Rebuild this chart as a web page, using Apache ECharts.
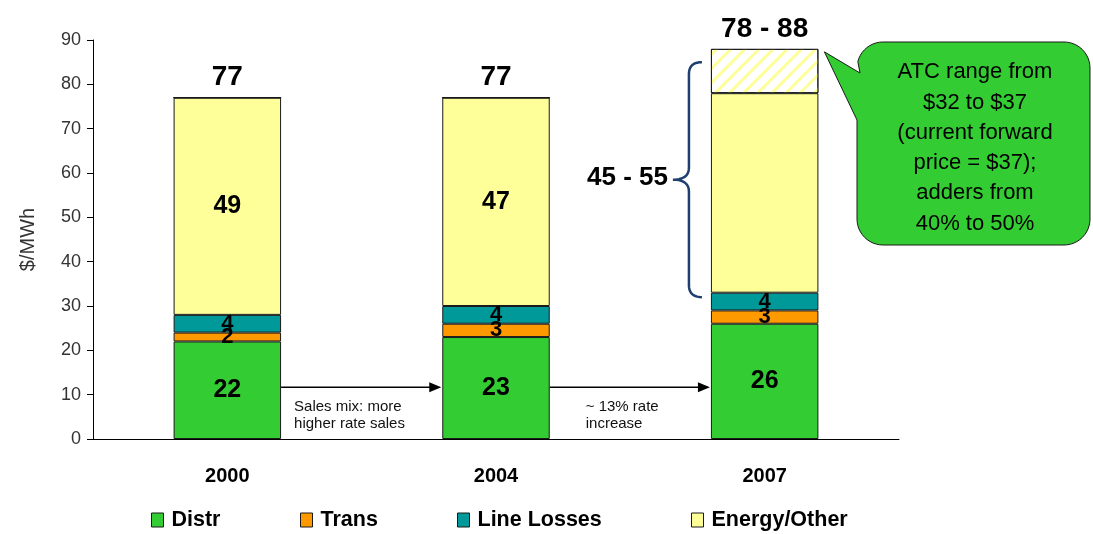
<!DOCTYPE html>
<html>
<head>
<meta charset="utf-8">
<script src="https://cdn.jsdelivr.net/npm/echarts@6/dist/echarts.min.js"></script>
<style>
html,body{margin:0;padding:0;background:#fff;}
#chart{width:1093px;height:534px;}
</style>
</head>
<body>
<div id="chart"></div>
<script>
const categories = ['2000', '2004', '2007'];
const distr = [22, 23, 26];
const trans = [2, 3, 3];
const lineLosses = [4, 4, 4];
const energyOther = [49, 47, 45];
const energyRange = [0, 0, 10];
const totalLabels = ['77', '77', '78 - 88'];
const yTicks = [0, 10, 20, 30, 40, 50, 60, 70, 80, 90];
const rangeLabel = '45 - 55';
const braceRange = [32, 85];
const arrowLevel = 11.7;
const arrowTexts = [['Sales mix: more', 'higher rate sales'], ['~ 13% rate', 'increase']];
const calloutLines = ['ATC range from', '$32 to $37', '(current forward', 'price = $37);', 'adders from', '40% to 50%'];

const FONT = 'Liberation Sans, Arial, sans-serif';
const colors = {Distr: '#33CC33', Trans: '#FF9900', 'Line Losses': '#009999', 'Energy/Other': '#FFFF99'};

const chart = echarts.init(document.getElementById('chart'), null, {renderer: 'canvas'});

function segLabel(size) {
  return {show: true, position: 'inside', color: '#000', fontFamily: FONT, fontWeight: 'bold', fontSize: size,
    formatter: p => p.value > 0 ? String(p.value) : ''};
}
const border = {borderColor: '#1a1a1a', borderWidth: 1};
const totalVals = categories.map(() => 0);

const option = {
  animation: false,
  backgroundColor: '#fff',
  grid: {left: 93, right: 194, top: 40, bottom: 95},
  xAxis: {
    type: 'category', data: categories,
    axisLine: {lineStyle: {color: '#000', width: 1}},
    axisTick: {show: false},
    axisLabel: {color: '#000', fontFamily: FONT, fontWeight: 'bold', fontSize: 20, margin: 27}
  },
  yAxis: {
    type: 'value', min: 0, max: 90, interval: 10,
    name: '$/MWh', nameLocation: 'middle', nameGap: 55, nameRotate: 90,
    nameTextStyle: {color: '#333', fontFamily: FONT, fontSize: 20},
    axisLine: {show: true, lineStyle: {color: '#000', width: 1}},
    axisTick: {show: true, length: 6, lineStyle: {color: '#000'}},
    splitLine: {show: false},
    axisLabel: {color: '#333', fontFamily: FONT, fontSize: 18, margin: 12,
      formatter: v => yTicks.indexOf(v) >= 0 ? String(v) : ''}
  },
  legend: [
    ['Distr', 146], ['Trans', 295], ['Line Losses', 452], ['Energy/Other', 686]
  ].map(([n, x]) => ({
    data: [n], left: x, top: 504, itemWidth: 12, itemHeight: 14, itemGap: 0,
    icon: 'rect', selectedMode: false,
    itemStyle: {borderColor: '#1a1a1a', borderWidth: 1},
    textStyle: {color: '#000', fontFamily: FONT, fontWeight: 'bold', fontSize: 21.5, padding: [0, 0, 0, 3]}
  })),
  series: [
    {name: 'Distr', type: 'bar', stack: 's', barWidth: '40%', data: distr,
      itemStyle: Object.assign({color: colors.Distr}, border), label: segLabel(25)},
    {name: 'Trans', type: 'bar', stack: 's', data: trans,
      itemStyle: Object.assign({color: colors.Trans}, border), label: segLabel(22)},
    {name: 'Line Losses', type: 'bar', stack: 's', data: lineLosses,
      itemStyle: Object.assign({color: colors['Line Losses']}, border), label: segLabel(22)},
    {name: 'Energy/Other', type: 'bar', stack: 's', data: energyOther,
      itemStyle: Object.assign({color: colors['Energy/Other']}, border),
      label: Object.assign(segLabel(25), {formatter: p => p.dataIndex === 2 ? '' : String(p.value)})},
    {name: 'Range', type: 'bar', stack: 's', data: energyRange,
      itemStyle: {color: '#fff', borderColor: '#1a1a1a', borderWidth: 1,
        decal: {symbol: 'rect', symbolSize: 1, color: '#FFFF99', dashArrayX: [1, 0], dashArrayY: [3, 7], rotation: -Math.PI / 4}},
      label: {show: false}},
    {name: 'Total', type: 'bar', stack: 's', data: totalVals,
      itemStyle: {color: 'transparent', borderWidth: 0},
      label: {show: true, position: 'top', distance: 6, color: '#000', fontFamily: FONT, fontWeight: 'bold', fontSize: 28,
        formatter: p => totalLabels[p.dataIndex]}}
  ]
};
chart.setOption(option);

// Annotations positioned through the axes
const P = (c, v) => chart.convertToPixel({gridIndex: 0}, [c, v]);
const halfBar = (P(categories[1], 0)[0] - P(categories[0], 0)[0]) * 0.4 / 2;
const g = [];
for (let i = 0; i < 2; i++) {
  const a = P(categories[i], arrowLevel), b = P(categories[i + 1], arrowLevel);
  const x1 = a[0] + halfBar, x2 = b[0] - halfBar, y = a[1];
  g.push({type: 'line', shape: {x1: x1, y1: y, x2: x2 - 10, y2: y}, style: {stroke: '#000', lineWidth: 1.5}});
  g.push({type: 'polygon', shape: {points: [[x2 - 1, y], [x2 - 13, y - 5], [x2 - 13, y + 5]]}, style: {fill: '#000'}});
  g.push({type: 'text', x: x1 + (i === 0 ? 13 : 36), y: y + 11,
    style: {text: arrowTexts[i].join('\n'), fill: '#111', font: '15px ' + FONT, lineHeight: 17}});
}
// Brace
function qpts(p0, c, p1, n) {
  const out = [];
  for (let k = 0; k <= n; k++) {
    const t = k / n, u = 1 - t;
    out.push([u * u * p0[0] + 2 * u * t * c[0] + t * t * p1[0], u * u * p0[1] + 2 * u * t * c[1] + t * t * p1[1]]);
  }
  return out;
}
const bt = P(categories[2], braceRange[1]), bb = P(categories[2], braceRange[0]);
const xr = bt[0] - halfBar - 9, xv = xr - 13, xt = xv - 16;
const yt = bt[1], yb = bb[1], ym = (yt + yb) / 2, r = 12;
const brace = [].concat(
  qpts([xr, yt], [xv, yt], [xv, yt + r], 10),
  qpts([xv, ym - r], [xv, ym], [xt, ym], 10),
  qpts([xt, ym], [xv, ym], [xv, ym + r], 10),
  qpts([xv, yb - r], [xv, yb], [xr, yb], 10)
);
g.push({type: 'polyline', shape: {points: brace}, style: {stroke: '#1F3F6F', lineWidth: 2.5, fill: null}});
g.push({type: 'text', x: xt - 5, y: ym - 15,
  style: {text: rangeLabel, fill: '#000', font: 'bold 26px ' + FONT, textAlign: 'right'}});
// Callout bubble
const tip = P(categories[2], 88);
const tx = tip[0] + halfBar + 6, ty = tip[1] + 3;
const L = 857, R = 1090, T = 42, B = 245, rr = 26;
function arc(cx, cy, rad, a0, a1, n) {
  const out = [];
  for (let k = 0; k <= n; k++) {
    const a = a0 + (a1 - a0) * k / n;
    out.push([cx + rad * Math.cos(a), cy + rad * Math.sin(a)]);
  }
  return out;
}
const bubble = [].concat(
  arc(R - rr, T + rr, rr, -Math.PI / 2, 0, 12),
  arc(R - rr, B - rr, rr, 0, Math.PI / 2, 12),
  arc(L + rr, B - rr, rr, Math.PI / 2, Math.PI, 12),
  [[L, 120], [tx, ty], [L + 3, 73]],
  arc(L + rr, T + rr, rr, Math.PI * 1.08, Math.PI * 1.5, 10)
);
g.push({type: 'polygon', shape: {points: bubble}, style: {fill: '#33CC33', stroke: '#1a1a1a', lineWidth: 1}});
g.push({type: 'text', x: 975, y: 57,
  style: {text: calloutLines.join('\n'), fill: '#000', font: '22px ' + FONT, lineHeight: 30.3, textAlign: 'center'}});
chart.setOption({graphic: g});
</script>
</body>
</html>
